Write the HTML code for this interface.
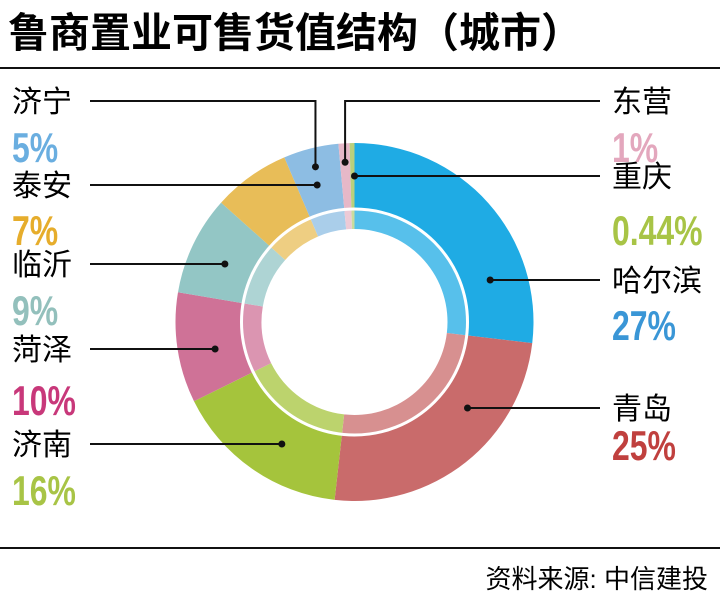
<!DOCTYPE html>
<html><head><meta charset="utf-8"><style>
body{margin:0;width:720px;height:610px;background:#fff;overflow:hidden;font-family:"Liberation Sans","Noto Sans CJK SC",sans-serif}
</style></head><body>
<svg width="720" height="610" xmlns="http://www.w3.org/2000/svg">
<text x="8" y="47" font-size="41" font-weight="bold" font-family="Liberation Sans, Noto Sans CJK SC, sans-serif">鲁商置业可售货值结构（城市）</text>
<line x1="0" y1="68" x2="720" y2="68" stroke="#111" stroke-width="2"/>
<line x1="0" y1="548" x2="720" y2="548" stroke="#111" stroke-width="2"/>
<text x="708" y="588" font-size="26" text-anchor="end" font-family="Liberation Sans, Noto Sans CJK SC, sans-serif">资料来源: 中信建投</text>
<g id="donut"></g>
<g id="labels"></g>
</svg>
<script>
const categories=["哈尔滨","青岛","济南","菏泽","临沂","泰安","济宁","东营","重庆"];
const values=[27,25,16,10,9,7,5,1,0.44];
const valueLabels=["27%","25%","16%","10%","9%","7%","5%","1%","0.44%"];
const colors=["#1fabe4","#c96b6b","#a5c43c","#cf7297","#93c6c5","#e8bd58","#8dbde3","#e6b8c8","#b9d07c"];
const labelColors=["#3a96d6","#c0403e","#a8c446","#c8387a","#93c0bc","#e6ad2c","#6aaee0","#e3a7bd","#a8c446"];
const layout=[
 {side:"r",ly:280,py:340},{side:"r",ly:408,py:460},{side:"l",ly:444,py:505},
 {side:"l",ly:349,py:415},{side:"l",ly:264,py:325},{side:"l",ly:185,py:245},
 {side:"l",ly:101,py:162,elbow:true},{side:"r",ly:101,py:162,elbow:true},{side:"r",ly:176,py:245}
];
const cx=354.5,cy=322,R=179,Rm=113,Ri=93;
const NS="http://www.w3.org/2000/svg";
const total=values.reduce((a,b)=>a+b,0);
function ang(v){return v/total*Math.PI*2;}
function pt(a,r){return [cx+r*Math.sin(a),cy-r*Math.cos(a)];}
function arc(a0,a1,r0,r1){
 const L=(a1-a0)>Math.PI?1:0;
 const p0=pt(a0,r1),p1=pt(a1,r1),p2=pt(a1,r0),p3=pt(a0,r0);
 return `M${p0} A${r1},${r1} 0 ${L} 1 ${p1} L${p2} A${r0},${r0} 0 ${L} 0 ${p3}Z`;
}
function lighten(hex,f){const n=parseInt(hex.slice(1),16);let r=n>>16,g=(n>>8)&255,b=n&255;
 r=Math.round(r+(255-r)*f);g=Math.round(g+(255-g)*f);b=Math.round(b+(255-b)*f);return `rgb(${r},${g},${b})`;}
const dg=document.getElementById("donut"),lg=document.getElementById("labels");
let a=0;
values.forEach((v,i)=>{
 const a1=a+ang(v);
 const p=document.createElementNS(NS,"path");
 p.setAttribute("d",arc(a,a1,Rm,R));p.setAttribute("fill",colors[i]);
 
 
 dg.appendChild(p);
 const q=document.createElementNS(NS,"path");
 q.setAttribute("d",arc(a,a1,Ri,Rm));q.setAttribute("fill",lighten(colors[i],0.25));
 
 
 dg.appendChild(q);
 const mid=(a+a1)/2, L=layout[i];
 let dot;
 if(L.elbow){const dp=pt(mid,160);dot=[dp[0],dp[1]];}
 else{const dy=L.ly-cy;const r=142;let dx=Math.sqrt(Math.max(0,r*r-dy*dy));dot=[L.side==="r"?cx+dx:cx-dx,L.ly];}
 const pl=document.createElementNS(NS,"polyline");
 const ex=L.side==="r"?600:90;
 const pts=L.elbow?`${ex},${L.ly} ${dot[0]},${L.ly} ${dot[0]},${dot[1]}`:`${ex},${L.ly} ${dot[0]},${L.ly}`;
 pl.setAttribute("points",pts);pl.setAttribute("fill","none");pl.setAttribute("stroke","#111");pl.setAttribute("stroke-width","2");
 
 
 lg.appendChild(pl);
 const c=document.createElementNS(NS,"circle");
 c.setAttribute("cx",dot[0]);c.setAttribute("cy",dot[1]);c.setAttribute("r","3.5");c.setAttribute("fill","#111");
 
 
 lg.appendChild(c);
 const tx=L.side==="r"?612:12;
 const t=document.createElementNS(NS,"text");
 t.setAttribute("x",tx);t.setAttribute("y",L.ly+11);t.setAttribute("font-size","30");
 t.setAttribute("font-family","Liberation Sans, Noto Sans CJK SC, sans-serif");t.textContent=categories[i];
 
 
 lg.appendChild(t);
 const t2=document.createElementNS(NS,"text");
 t2.setAttribute("x",0);t2.setAttribute("y",0);t2.setAttribute("font-size","42");t2.setAttribute("font-weight","bold");
 t2.setAttribute("transform",`translate(${tx},${L.py}) scale(0.76,1)`);
 t2.setAttribute("font-family","Liberation Sans Narrow, Liberation Sans, sans-serif");t2.setAttribute("fill",labelColors[i]);
 t2.textContent=valueLabels[i];
 
 
 lg.appendChild(t2);
 a=a1;
});
const wc=document.createElementNS(NS,"circle");
wc.setAttribute("cx",cx);wc.setAttribute("cy",cy);wc.setAttribute("r",Rm);wc.setAttribute("fill","none");wc.setAttribute("stroke","#fff");wc.setAttribute("stroke-width","3");


dg.appendChild(wc);
</script>
</body></html>
